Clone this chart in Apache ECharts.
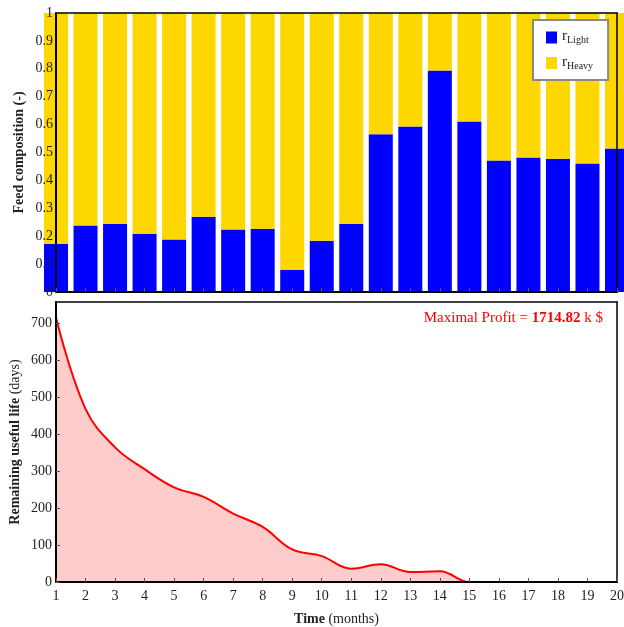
<!DOCTYPE html>
<html>
<head>
<meta charset="utf-8">
<script src="https://cdn.jsdelivr.net/npm/echarts@6/dist/echarts.min.js"></script>
<style>
  html, body { margin: 0; padding: 0; background: #fff; }
  #container { width: 624px; height: 627px; }
</style>
</head>
<body>
<div id="container"></div>
<script>
var months = [1, 2, 3, 4, 5, 6, 7, 8, 9, 10, 11, 12, 13, 14, 15, 16, 17, 18, 19, 20];
// feed composition per month
var rLight = [0.173, 0.238, 0.245, 0.209, 0.188, 0.270, 0.224, 0.227, 0.080, 0.184,
  0.245, 0.565, 0.593, 0.794, 0.611, 0.471, 0.482, 0.478, 0.461, 0.514];
var rHeavy = [0.827, 0.762, 0.755, 0.791, 0.812, 0.730, 0.776, 0.773, 0.920, 0.816,
  0.755, 0.435, 0.407, 0.206, 0.389, 0.529, 0.518, 0.522, 0.539, 0.486];
// remaining useful life (days)
var rul = [715, 468, 364, 305, 256, 230, 185, 149, 88, 70, 36, 48, 27, 29, 0, 0, 0, 0, 0, 0];
var compTicks = [0, 0.1, 0.2, 0.3, 0.4, 0.5, 0.6, 0.7, 0.8, 0.9, 1];

var serif = 'Liberation Serif';
var dom = document.getElementById('container');
var myChart = echarts.init(dom);

// plot frame: x from 56 to 617 covers months 1..20
var frameLeft = 56, frameRight = 617;
var step = (frameRight - frameLeft) / (months.length - 1);

function frameAxis(grid, pos, min, max) {
  return {
    type: 'value',
    gridIndex: grid,
    position: pos,
    min: min,
    max: max,
    z: 10,
    axisLine: { show: true, onZero: false, lineStyle: { color: '#000', width: 1.5 } },
    axisTick: { show: false },
    axisLabel: { show: false },
    splitLine: { show: false }
  };
}

var tickStyle = { color: '#555', width: 1 };
var labelStyle = { fontFamily: serif, fontSize: 14, color: '#222' };

var option = {
  animation: false,
  grid: [
    // bars (category bands centred on the month ticks)
    { left: frameLeft - step / 2, top: 13, width: step * months.length, height: 279, outerBoundsMode: 'none' },
    // top frame
    { left: frameLeft, top: 13, right: 624 - frameRight, height: 279, outerBoundsMode: 'none' },
    // remaining useful life
    { left: frameLeft, top: 302, right: 624 - frameRight, height: 280, outerBoundsMode: 'none' }
  ],
  legend: {
    left: 533,
    top: 20,
    orient: 'vertical',
    backgroundColor: '#fff',
    borderColor: '#888',
    borderWidth: 2,
    borderRadius: 0,
    padding: [9, 15, 9, 13],
    itemWidth: 11,
    itemHeight: 12,
    itemGap: 9,
    icon: 'rect',
    z: 20,
    data: ['Light', 'Heavy'],
    formatter: function(name) {
      return '{r|r}{s|' + name + '}';
    },
    textStyle: {
      rich: {
        r: { fontFamily: serif, fontSize: 15, color: '#222', padding: [0, 0, 2, 0] },
        s: { fontFamily: serif, fontSize: 10, color: '#222', padding: [6, 0, 0, 0] }
      }
    }
  },
  title: {
    right: 16,
    top: 306,
    text: '{a|Maximal Profit = }{b|1714.82}{a| k $}',
    textStyle: {
      fontWeight: 'normal',
      rich: {
        a: { fontFamily: serif, fontSize: 15, fontWeight: 'normal', color: '#ff0000' },
        b: { fontFamily: serif, fontSize: 15, fontWeight: 'bold', color: '#ff0000' }
      }
    }
  },
  xAxis: [
    {
      type: 'category',
      gridIndex: 0,
      data: months,
      show: false
    },
    {
      type: 'value',
      gridIndex: 1,
      min: 1,
      max: 20,
      interval: 1,
      z: 10,
      axisLine: { show: true, onZero: false, lineStyle: { color: '#000', width: 2 } },
      axisTick: { show: true, inside: true, length: 4, lineStyle: tickStyle },
      axisLabel: { show: false },
      splitLine: { show: false }
    },
    frameAxis(1, 'top', 1, 20),
    {
      type: 'value',
      gridIndex: 2,
      min: 1,
      max: 20,
      interval: 1,
      z: 10,
      name: '{b|Time} (months)',
      nameLocation: 'middle',
      nameGap: 30,
      nameTextStyle: {
        fontFamily: serif, fontSize: 14, color: '#222',
        rich: { b: { fontFamily: serif, fontSize: 14, fontWeight: 'bold', color: '#222' } }
      },
      axisLine: { show: true, onZero: false, lineStyle: { color: '#000', width: 2 } },
      axisTick: { show: true, inside: true, length: 4, lineStyle: tickStyle },
      axisLabel: Object.assign({ margin: 7 }, labelStyle),
      splitLine: { show: false }
    },
    frameAxis(2, 'top', 1, 20)
  ],
  yAxis: [
    {
      type: 'value',
      gridIndex: 0,
      min: 0,
      max: 1,
      show: false
    },
    {
      type: 'value',
      gridIndex: 1,
      min: 0,
      max: 1,
      interval: 0.1,
      z: 10,
      name: 'Feed composition (-)',
      nameLocation: 'middle',
      nameGap: 30,
      nameRotate: 90,
      nameMoveOverlap: false,
      nameTextStyle: { fontFamily: serif, fontSize: 14, fontWeight: 'bold', color: '#222' },
      axisLine: { show: true, onZero: false, lineStyle: { color: '#000', width: 2 } },
      axisTick: { show: false },
      axisLabel: Object.assign({
        margin: 3,
        formatter: function(v) {
          var i = compTicks.indexOf(Math.round(v * 10) / 10);
          return i < 0 ? '' : String(compTicks[i]);
        }
      }, labelStyle),
      splitLine: { show: false }
    },
    frameAxis(1, 'right', 0, 1),
    {
      type: 'value',
      gridIndex: 2,
      min: 0,
      max: 757,
      interval: 100,
      z: 10,
      name: '{b|Remaining useful life} (days)',
      nameLocation: 'middle',
      nameGap: 34,
      nameRotate: 90,
      nameMoveOverlap: false,
      nameTextStyle: {
        fontFamily: serif, fontSize: 14, color: '#222',
        rich: { b: { fontFamily: serif, fontSize: 14, fontWeight: 'bold', color: '#222' } }
      },
      axisLine: { show: true, onZero: false, lineStyle: { color: '#000', width: 2 } },
      axisTick: { show: true, inside: true, length: 4, lineStyle: tickStyle },
      axisLabel: Object.assign({ margin: 4, showMaxLabel: false }, labelStyle),
      splitLine: { show: false }
    },
    frameAxis(2, 'right', 0, 757)
  ],
  series: [
    {
      name: 'Light',
      type: 'bar',
      xAxisIndex: 0,
      yAxisIndex: 0,
      stack: 'feed',
      barWidth: 24,
      itemStyle: { color: '#0000ff' },
      data: rLight
    },
    {
      name: 'Heavy',
      type: 'bar',
      xAxisIndex: 0,
      yAxisIndex: 0,
      stack: 'feed',
      barWidth: 24,
      itemStyle: { color: '#ffd700' },
      data: rHeavy
    },
    {
      name: 'RUL',
      type: 'line',
      xAxisIndex: 3,
      yAxisIndex: 3,
      smooth: 0.4,
      symbol: 'none',
      lineStyle: { color: '#ff0000', width: 2 },
      areaStyle: { color: '#ffcccc', opacity: 1 },
      data: months.map(function(m, i) { return [m, rul[i]]; })
    }
  ]
};

myChart.setOption(option);
</script>
</body>
</html>
